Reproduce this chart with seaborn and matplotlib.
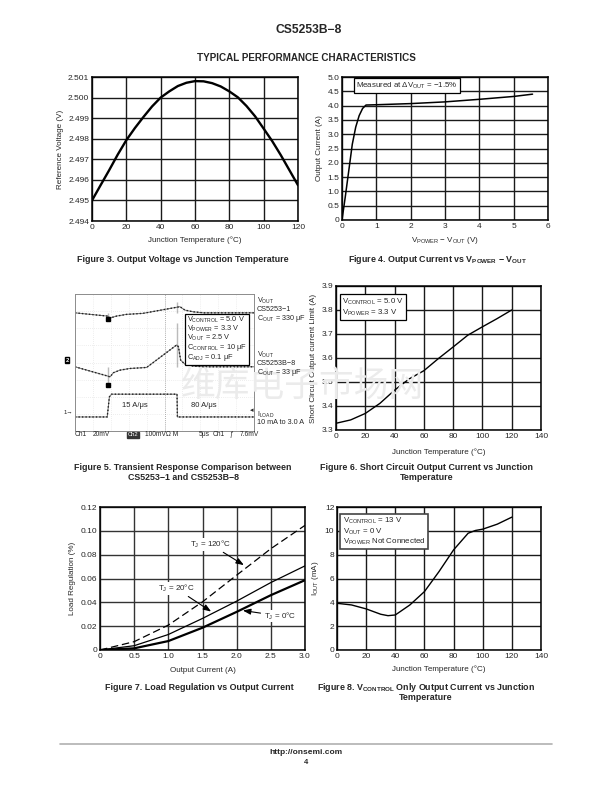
import numpy as np
import pandas as pd
import seaborn as sns
import matplotlib
matplotlib.use('Agg')
import matplotlib.pyplot as plt

# Figure 3 - reference voltage vs junction temperature
fig3_temp = list(range(0, 121, 5))
fig3_vref = [2.4950, 2.49574, 2.49647, 2.49723, 2.49793, 2.49852, 2.49906,
             2.49957, 2.5000, 2.5003, 2.50056, 2.50072, 2.5008, 2.50079,
             2.5007, 2.50054, 2.5003, 2.50001, 2.49959, 2.49909, 2.49849,
             2.49788, 2.4972, 2.49647, 2.49574]

# Figure 4 - output current vs Vpower - Vout
fig4_dv = [0, 0.1, 0.2, 0.3, 0.4, 0.5, 0.6, 0.7, 1.0, 2.0, 3.0, 4.0, 5.0, 5.55]
fig4_iout = [0, 0.85, 1.75, 2.65, 3.25, 3.65, 3.9, 4.02, 4.03, 4.07, 4.13, 4.22, 4.32, 4.4]

# Figure 5 - scope traces (time in us, vertical in divisions)
top_t = [0, 9.1, 9.1, 9.8, 11.6, 14.4, 19, 28.4, 28.4, 29.3, 30.7, 33, 36, 50]
top_v = [6.9, 6.9, 6.52, 6.6, 6.71, 6.81, 6.87, 6.9, 7.55, 7.26, 7.06, 6.96, 6.9, 6.9]
mid_t = [0, 9.1, 9.1, 9.8, 10.7, 12.5, 15.3, 20, 28.4, 28.4, 28.9, 29.5, 30.7, 33, 36, 50]
mid_v = [3.75, 3.75, 2.67, 3.16, 3.4, 3.55, 3.65, 3.71, 3.75, 6.3, 4.92, 4.14, 3.9, 3.79, 3.75, 3.75]
load_t = [0, 9.0, 9.3, 9.6, 10.2, 28.5, 28.6, 50]
load_v = [0.82, 0.82, 1.4, 1.99, 2.15, 2.15, 0.82, 0.82]

# Figure 6 - short circuit current limit vs junction temperature
fig6_temp = [0, 10, 20, 30, 40, 50, 60, 70, 80, 90, 100, 110, 120]
fig6_ilim = [3.328, 3.342, 3.369, 3.411, 3.466, 3.513, 3.547, 3.598,
             3.646, 3.695, 3.73, 3.764, 3.80]

# Figure 7 - load regulation vs output current
fig7_iout = [0, 0.5, 1.0, 1.5, 2.0, 2.5, 3.0]
reg_120 = [0, 0.007, 0.0209, 0.0404, 0.0628, 0.085, 0.1046]
reg_20 = [0, 0.0036, 0.013, 0.0265, 0.041, 0.0566, 0.0706]
reg_0 = [0, 0.0014, 0.0075, 0.0187, 0.032, 0.046, 0.0586]

# Figure 8 - Vcontrol only output current vs junction temperature
fig8_temp = [0, 10, 20, 30, 35, 40, 50, 60, 70, 80, 90, 95, 100, 110, 120]
fig8_iout = [3.92, 3.78, 3.45, 3.0, 2.88, 2.94, 3.78, 4.9, 6.58, 8.4, 9.8,
             10.03, 10.14, 10.56, 11.15]

sns.set_theme(style='ticks')
plt.rcParams['font.family'] = ['Liberation Sans', 'Noto Sans CJK SC', 'DejaVu Sans']
plt.rcParams['mathtext.default'] = 'regular'
plt.rcParams['axes.linewidth'] = 1.0
plt.rcParams['axes.edgecolor'] = 'black'

W, H = 612, 792
fig = plt.figure(figsize=(W / 100, H / 100), dpi=100)
fig.patch.set_facecolor('white')


def px_axes(l, t, r, b):
    return fig.add_axes([l / W, 1 - b / H, (r - l) / W, (b - t) / H])


def ftext(x, y, s, **kw):
    return fig.text(x / W, 1 - y / H, s, **kw)


TICK = 6
LAB = 5.8
CAP = 6.4
BOX = 5.7


def style_grid(ax, xlim, ylim, xt, yt, xl, yl):
    ax.set_xlim(*xlim)
    ax.set_ylim(*ylim)
    ax.set_xticks(xt)
    ax.set_yticks(yt)
    ax.set_xticklabels(xl, fontsize=TICK)
    ax.set_yticklabels(yl, fontsize=TICK)
    ax.tick_params(length=0, pad=2)
    ax.grid(True, color='#1a1a1a', lw=1.0)
    ax.set_axisbelow(True)
    for s in ax.spines.values():
        s.set_visible(True)
        s.set_color('black')
        s.set_linewidth(1.1)


# header
ftext(309, 30, 'CS5253B\u22128', ha='center', va='center', fontsize=8.7, fontweight='bold')
ftext(306, 58, 'TYPICAL PERFORMANCE CHARACTERISTICS', ha='center', va='center',
      fontsize=7.1, fontweight='bold')

# ---- Figure 3
ax3 = px_axes(92, 77, 298, 221)
sns.lineplot(x=fig3_temp, y=fig3_vref, ax=ax3, color='black', lw=1.7)
y3 = [2.494 + 0.001 * i for i in range(8)]
style_grid(ax3, (0, 120), (2.494, 2.501), range(0, 121, 20), y3,
           [str(v) for v in range(0, 121, 20)], ['%.3f' % v for v in y3])
ax3.set_xlabel('Junction Temperature (\u00b0C)', fontsize=LAB, labelpad=4)
ax3.set_ylabel('Reference Voltage (V)', fontsize=LAB, labelpad=3)
ftext(183, 259, 'Figure 3. Output Voltage vs Junction Temperature', ha='center',
      va='center', fontsize=CAP, fontweight='bold')

# ---- Figure 4
ax4 = px_axes(342, 77, 548, 220)
sns.lineplot(x=fig4_dv, y=fig4_iout, ax=ax4, color='black', lw=1.1, sort=False)
y4 = [0.5 * i for i in range(11)]
style_grid(ax4, (0, 6), (0, 5), range(7), y4, [str(v) for v in range(7)],
           ['0'] + ['%.1f' % v for v in y4[1:]])
ax4.set_xlabel(r'V$_{POWER}$ ' + '\u2212' + r' V$_{OUT}$ (V)', fontsize=LAB, labelpad=4)
ax4.set_ylabel('Output Current (A)', fontsize=LAB, labelpad=3)
ax4.text(0.42, 4.7, r'Measured at $\Delta$V$_{OUT}$ = ' + '\u22121.5%', fontsize=BOX,
         va='center', ha='left',
         bbox=dict(boxstyle='square,pad=0.3', fc='white', ec='black', lw=0.9))
ftext(437, 260, r'Figure 4. Output Current vs V$_{POWER}$ ' + '\u2212' + r' V$_{OUT}$',
      ha='center', va='center', fontsize=CAP, fontweight='bold')

# ---- Figure 5 (scope capture)
ax5 = px_axes(75, 294, 254, 431)
ax5.set_xlim(0, 50)
ax5.set_ylim(0, 8)
ax5.set_xticks([])
ax5.set_yticks([])
for s in ax5.spines.values():
    s.set_color('#8c8c8c')
    s.set_linewidth(0.7)
for gx in range(5, 50, 5):
    ax5.axvline(gx, color='#dddddd', lw=0.5, ls=(0, (1, 2)), zorder=0)
for gy in range(1, 8):
    ax5.axhline(gy, color='#dddddd', lw=0.5, ls=(0, (1, 2)), zorder=0)
ax5.axvline(25, color='#9a9a9a', lw=0.6, ls=(0, (1, 1.5)), zorder=0)
for tt, vv in [(top_t, top_v), (mid_t, mid_v), (load_t, load_v)]:
    sns.lineplot(x=tt, y=vv, ax=ax5, color='#6e6e6e', lw=0.7, sort=False)
    sns.lineplot(x=tt, y=vv, ax=ax5, color='#222222', lw=1.0, sort=False,
                 ls=(0, (1, 1.5)))
ax5.plot([top_t[2], mid_t[2]], [top_v[2], mid_v[2]], ls='none', marker='s',
         ms=3, color='black')
ax5.text(13, 1.5, '15 A/\u03bcs', fontsize=5.5, va='center')
ax5.text(32.5, 1.5, '80 A/\u03bcs', fontsize=5.5, va='center')
ftext(187, 339, r'V$_{CONTROL}$ = 5.0 V' + '\n' + r'V$_{POWER}$ = 3.3 V' + '\n' +
      r'V$_{OUT}$ = 2.5 V' + '\n' + r'C$_{CONTROL}$ = 10 ' + '\u03bcF' + '\n' +
      r'C$_{ADJ}$ = 0.1 ' + '\u03bcF', fontsize=5.3, va='center', ha='left',
      linespacing=0.82,
      bbox=dict(boxstyle='square,pad=0.3', fc='white', ec='black', lw=0.9))
ftext(257, 310, r'V$_{OUT}$' + '\nCS5253\u22121\n' + r'C$_{OUT}$ = 330 ' + '\u03bcF',
      fontsize=5.2, va='center', ha='left', linespacing=0.95)
ftext(257, 364, r'V$_{OUT}$' + '\nCS5253B\u22128\n' + r'C$_{OUT}$ = 33 ' + '\u03bcF',
      fontsize=5.2, va='center', ha='left', linespacing=0.95)
ftext(257, 418, r'I$_{LOAD}$' + '\n10 mA to 3.0 A', fontsize=5.2, va='center',
      ha='left', linespacing=0.95)
ftext(252, 411, '\u25c2', fontsize=5, va='center', ha='center')
ftext(67, 360, '2', fontsize=4.2, va='center', ha='center', color='white',
      fontweight='bold', bbox=dict(boxstyle='square,pad=0.1', fc='black', ec='black'))
ftext(68, 412, '1\u2192', fontsize=4.4, va='center', ha='center')
scope_lab = [(75, 'Ch1'), (93, '20mV'), (145, '100mV\u03a9 M'), (199, '5\u03bcs'),
             (213, 'Ch1'), (229, '\u0192'), (240, '7.6mV')]
for sx, st in scope_lab:
    ftext(sx, 435, st, fontsize=4.8, va='center', ha='left')
ftext(128, 435, 'Ch2', fontsize=4.2, va='center', ha='left', color='white',
      bbox=dict(boxstyle='square,pad=0.1', fc='#333333', ec='#333333'))
ftext(183, 467, 'Figure 5. Transient Response Comparison between', ha='center',
      va='center', fontsize=CAP, fontweight='bold')
ftext(183, 478, 'CS5253\u22121 and CS5253B\u22128', ha='center', va='center',
      fontsize=CAP, fontweight='bold')

# ---- Figure 6
ax6 = px_axes(336, 286, 541, 430)
sns.lineplot(x=fig6_temp, y=fig6_ilim, ax=ax6, color='black', lw=1.0)
y6 = [3.3 + 0.1 * i for i in range(7)]
style_grid(ax6, (0, 140), (3.3, 3.9), range(0, 141, 20), y6,
           [str(v) for v in range(0, 141, 20)], ['%.1f' % v for v in y6])
ax6.set_xlabel('Junction Temperature (\u00b0C)', fontsize=LAB, labelpad=6)
ax6.set_ylabel('Short Circuit Output current Limit (A)', fontsize=LAB, labelpad=3)
ax6.text(4.3, 3.812, r'V$_{CONTROL}$ = 5.0 V' + '\n' + r'V$_{POWER}$ = 3.3 V',
         fontsize=BOX, va='center', ha='left', linespacing=1.1,
         bbox=dict(boxstyle='square,pad=0.3', fc='white', ec='black', lw=0.9))
ftext(427, 467, 'Figure 6. Short Circuit Output Current vs Junction', ha='center',
      va='center', fontsize=CAP, fontweight='bold')
ftext(427, 478, 'Temperature', ha='center', va='center', fontsize=CAP,
      fontweight='bold')

# ---- Figure 7
ax7 = px_axes(100, 507, 305, 650)
sns.lineplot(x=fig7_iout, y=reg_120, ax=ax7, color='black', lw=0.9, ls=(0, (6, 3)))
sns.lineplot(x=fig7_iout, y=reg_20, ax=ax7, color='black', lw=0.9)
sns.lineplot(x=fig7_iout, y=reg_0, ax=ax7, color='black', lw=1.6)
x7 = [0.5 * i for i in range(7)]
y7 = [0.02 * i for i in range(7)]
style_grid(ax7, (0, 3), (0, 0.12), x7, y7, ['0'] + ['%.1f' % v for v in x7[1:]],
           ['0'] + ['%.2f' % v for v in y7[1:]])
ax7.grid(True, color='#333333', lw=1.0)
ax7.set_xlabel('Output Current (A)', fontsize=LAB, labelpad=5)
ax7.set_ylabel('Load Regulation (%)', fontsize=LAB, labelpad=3)
arrow = dict(arrowstyle='-|>,head_length=0.8,head_width=0.3', color='black', lw=0.8)
ax7.annotate('T$_{J}$ = 120\u00b0C', xy=(2.14, 0.07), xytext=(1.32, 0.0885),
             fontsize=5.8, va='center', ha='left', arrowprops=arrow,
             bbox=dict(fc='white', ec='none', pad=0.5))
ax7.annotate('T$_{J}$ = 20\u00b0C', xy=(1.66, 0.031), xytext=(0.85, 0.0515),
             fontsize=5.8, va='center', ha='left', arrowprops=arrow,
             bbox=dict(fc='white', ec='none', pad=0.5))
ax7.annotate('T$_{J}$ = 0\u00b0C', xy=(2.05, 0.0335), xytext=(2.4, 0.0285),
             fontsize=5.8, va='center', ha='left', arrowprops=arrow,
             bbox=dict(fc='white', ec='none', pad=0.5))
ftext(199, 687, 'Figure 7. Load Regulation vs Output Current', ha='center',
      va='center', fontsize=CAP, fontweight='bold')

# ---- Figure 8
ax8 = px_axes(337, 507, 541, 650)
sns.lineplot(x=fig8_temp, y=fig8_iout, ax=ax8, color='black', lw=1.0)
style_grid(ax8, (0, 140), (0, 12), range(0, 141, 20), range(0, 13, 2),
           [str(v) for v in range(0, 141, 20)], [str(v) for v in range(0, 13, 2)])
ax8.set_xlabel('Junction Temperature (\u00b0C)', fontsize=LAB, labelpad=4)
ax8.set_ylabel('I$_{OUT}$ (mA)', fontsize=LAB, labelpad=3)
ax8.text(3.8, 9.95, r'V$_{CONTROL}$ = 13 V' + '\n' + r'V$_{OUT}$ = 0 V' + '\n' +
         r'V$_{POWER}$ Not Connected', fontsize=BOX, va='center', ha='left',
         linespacing=1.0,
         bbox=dict(boxstyle='square,pad=0.3', fc='white', ec='#444444', lw=1.2))
ftext(426, 687, r'Figure 8. V$_{CONTROL}$ Only Output Current vs Junction',
      ha='center', va='center', fontsize=CAP, fontweight='bold')
ftext(426, 698, 'Temperature', ha='center', va='center', fontsize=CAP,
      fontweight='bold')

# watermark
ftext(302, 386, '\u7ef4\u5e93\u7535\u5b50\u5e02\u573a\u7f51', ha='center', va='center',
      fontsize=25, color='#ebebeb', family=['Noto Sans CJK SC', 'DejaVu Sans'],
      zorder=0)

# footer
fig.add_artist(plt.Line2D([60 / W, 552 / W], [1 - 744 / H, 1 - 744 / H],
                          color='#b0b0b0', lw=1.2))
ftext(306, 753, 'http://onsemi.com', ha='center', va='center', fontsize=6.0,
      fontweight='bold')
ftext(306, 763, '4', ha='center', va='center', fontsize=5.5, fontweight='bold')

for a in [ax3, ax4, ax5, ax6, ax7, ax8]:
    if a.get_legend() is not None:
        a.get_legend().remove()

fig.savefig('out.png', dpi=100, facecolor='white')
